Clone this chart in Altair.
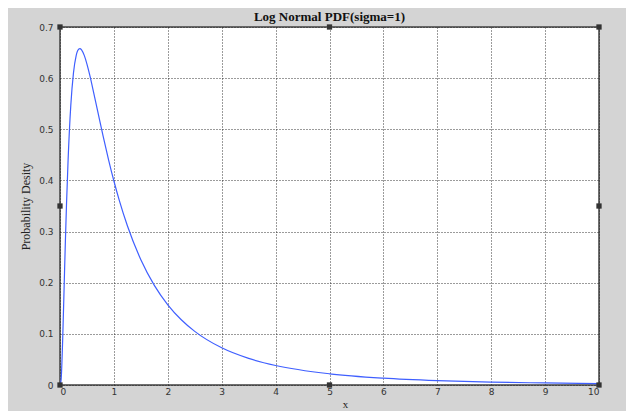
import altair as alt
import pandas as pd

# Curve values (log-normal PDF, sigma=1)
xs = [0.0, 0.02, 0.05, 0.08, 0.1, 0.12, 0.15, 0.2, 0.25, 0.3, 0.35, 0.368, 0.4, 0.45, 0.5,
      0.55, 0.6, 0.7, 0.8, 0.9, 1.0, 1.1, 1.25, 1.5, 1.75, 2.0, 2.25, 2.5, 3.0, 3.5, 4.0,
      5.0, 6.0, 7.0, 8.0, 9.0, 10.0]
ys = [0.0, 0.0095, 0.0898, 0.2053, 0.2815, 0.3511, 0.4396, 0.5463, 0.6104, 0.6442, 0.6570,
      0.6577, 0.6555, 0.6445, 0.6275, 0.6067, 0.5836, 0.5349, 0.4864, 0.4408, 0.3989,
      0.3610, 0.3113, 0.2450, 0.1949, 0.1569, 0.1276, 0.1049, 0.0727, 0.0520, 0.0381,
      0.0219, 0.0134, 0.0086, 0.0057, 0.0040, 0.0028]

# Selection handles seen on the axes box
handle_x = [0, 5, 10, 0, 10, 0, 5, 10]
handle_y = [0, 0, 0, 0.35, 0.35, 0.7, 0.7, 0.7]

x_ticks = [0, 1, 2, 3, 4, 5, 6, 7, 8, 9, 10]
y_ticks = [0, 0.1, 0.2, 0.3, 0.4, 0.5, 0.6, 0.7]

curve = pd.DataFrame({"x": xs, "y": ys})
handles = pd.DataFrame({"x": handle_x, "y": handle_y})

xscale = alt.Scale(domain=[0, 10], nice=False, zero=False)
yscale = alt.Scale(domain=[0, 0.7], nice=False)

xaxis = alt.Axis(values=x_ticks, format="d", title="x", grid=True, ticks=False,
                 labelPadding=2, domain=False,
                 titleX=285, titleY=13, titleFont="Liberation Serif",
                 titleFontWeight="normal", titleFontSize=11, titleColor="#222")
yaxis = alt.Axis(values=y_ticks, title="Probability Desity", grid=True, ticks=False,
                 labelPadding=7, domain=False,
                 labelExpr="datum.value == 0 ? '0' : format(datum.value, '.1f')",
                 titleFont="Liberation Serif", titleFontWeight="normal", titleFontSize=12,
                 titleColor="#222", titlePadding=6)

line = alt.Chart(curve).mark_line(color="#3f5fff", strokeWidth=1.2, clip=True,
                                  interpolate="monotone").encode(
    x=alt.X("x:Q", scale=xscale, axis=xaxis),
    y=alt.Y("y:Q", scale=yscale, axis=yaxis),
)

pts = alt.Chart(handles).mark_point(shape="square", filled=True, color="#333333",
                                    size=28, opacity=1).encode(
    x=alt.X("x:Q", scale=xscale),
    y=alt.Y("y:Q", scale=yscale),
)

chart = (line + pts).properties(
    width=539,
    height=358,
    background="#d4d4d4",
    padding={"left": 52, "top": 19, "right": 27, "bottom": 26},
    autosize=alt.AutoSizeParams(type="none"),
    title=alt.TitleParams("Log Normal PDF(sigma=1)", font="Liberation Serif",
                          fontWeight="bold", fontSize=13, color="#111",
                          frame="group", offset=6, dy=7),
).configure_view(
    fill="white", stroke="#404040", strokeWidth=1.5
).configure_axis(
    gridColor="#222222", gridDash=[1, 2], gridOpacity=0.9, gridWidth=1,
    labelFont="DejaVu Sans", labelFontSize=9, labelColor="#333333",
)

chart.save("out.html", embed_options={"renderer": "svg", "actions": False})
